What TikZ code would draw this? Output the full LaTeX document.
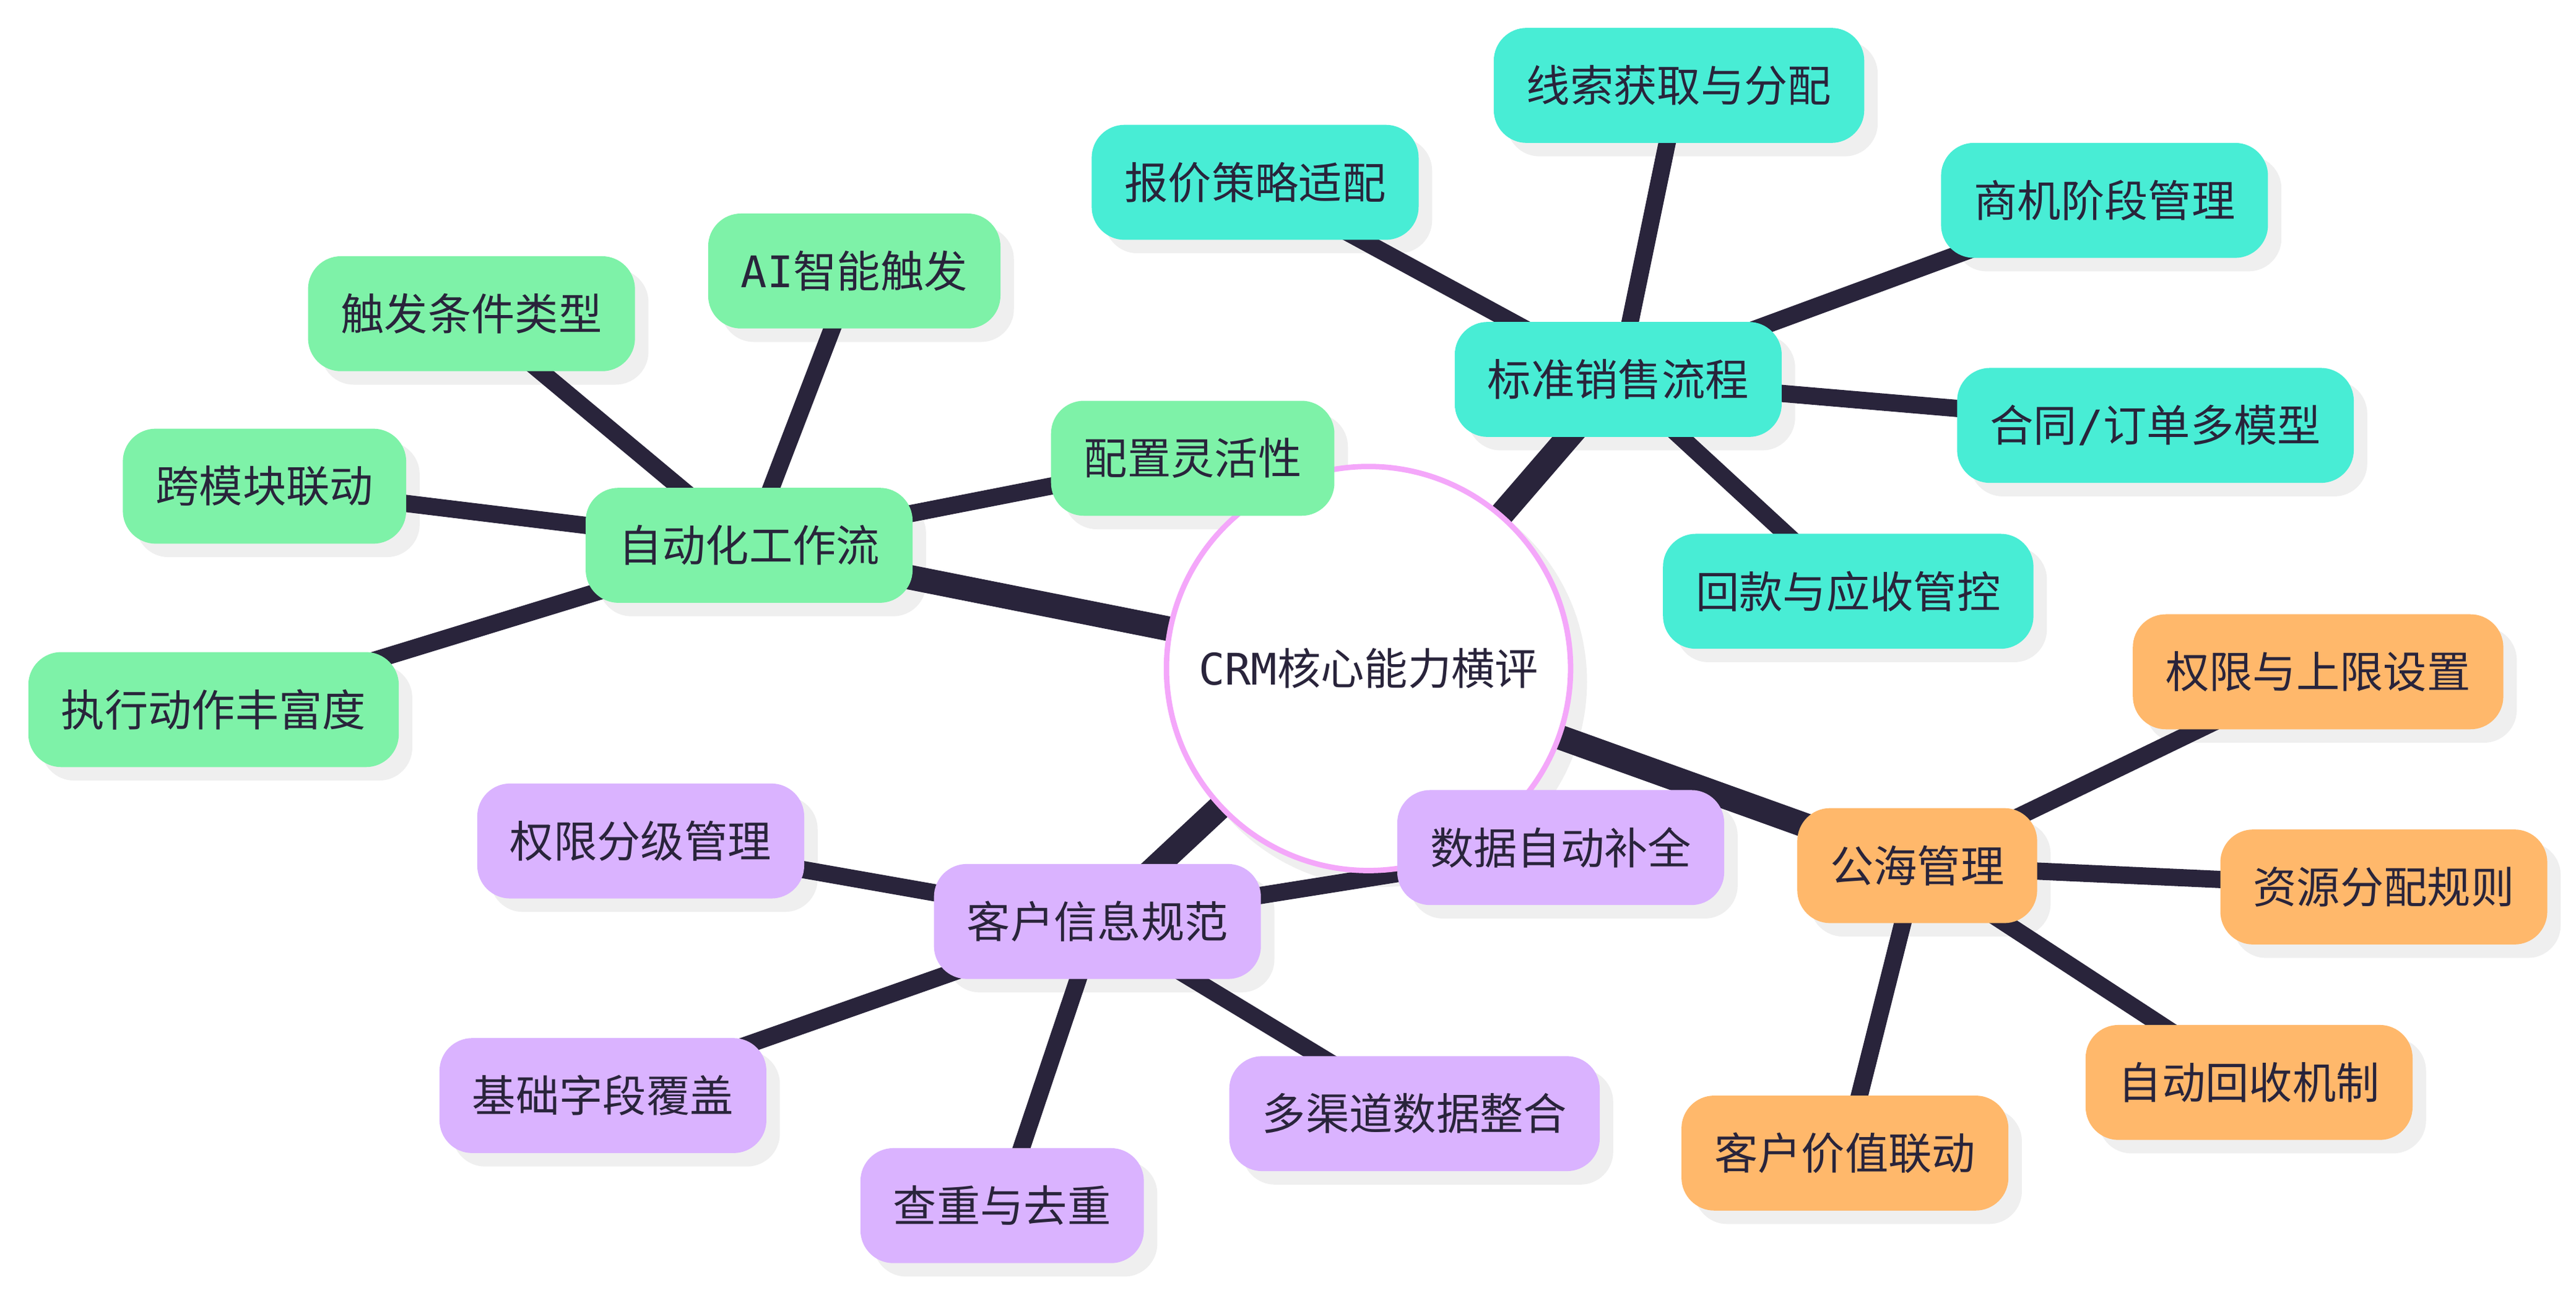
\documentclass[tikz,border=0pt]{standalone}
\usepackage{fontspec}
\setmainfont{Noto Sans CJK SC}
\newfontfamily\latin{DejaVu Sans Mono}
\definecolor{ink}{HTML}{29243B}
\definecolor{hubpink}{HTML}{F4A7FA}
\definecolor{wfgreen}{HTML}{7EF2A8}
\definecolor{salesteal}{HTML}{48EDD5}
\definecolor{poolorange}{HTML}{FFB86B}
\definecolor{infopurple}{HTML}{DAB3FF}
\definecolor{shadowgray}{HTML}{EFEFEF}
\pgfdeclarelayer{shadowlayer}
\pgfdeclarelayer{edgelayer}
\pgfsetlayers{shadowlayer,edgelayer,main}
\tikzset{
    topic/.style={rounded corners=20pt, minimum height=70pt, inner xsep=20pt, inner ysep=0pt, text=ink, font=\fontsize{26.5}{30}\selectfont},
    hub/.style={circle, draw=hubpink, line width=3.3pt, fill=white, minimum size=246pt, inner sep=0pt, text=ink, font=\fontsize{26.5}{30}\selectfont},
    wfbox/.style={topic, fill=wfgreen},
    salesbox/.style={topic, fill=salesteal},
    poolbox/.style={topic, fill=poolorange},
    infobox/.style={topic, fill=infopurple},
    trunk/.style={ink, line width=15pt},
    twig/.style={ink, line width=10.5pt},
    dropbox/.style={fill=shadowgray, rounded corners=20pt}
}
\begin{document}
\begin{tikzpicture}[x=1pt,y=-1pt]
            \useasboundingbox (0,0) rectangle (1568,787);
            \node[hub] (root) at (833,407) {{\latin CRM}核心能力横评};
            \node[wfbox] (wf) at (456,332) {自动化工作流};
            \node[salesbox] (sales) at (985,231) {标准销售流程};
            \node[poolbox] (pool) at (1167,527) {公海管理};
            \node[infobox] (info) at (668,561) {客户信息规范};
            \foreach \n/\x/\y/\t in {wf1/726/279/{配置灵活性}, wf2/520/165/{{\latin AI}智能触发}, wf3/287/191/{触发条件类型}, wf4/161/296/{跨模块联动}, wf5/130/432/{执行动作丰富度}} {
                \node[wfbox] (\n) at (\x,\y) {\t};
            }
            \foreach \n/\x/\y/\t in {sales1/764/111/{报价策略适配}, sales2/1022/52/{线索获取与分配}, sales3/1281/122/{商机阶段管理}, sales4/1312/259/{合同{\latin /}订单多模型}, sales5/1125/360/{回款与应收管控}} {
                \node[salesbox] (\n) at (\x,\y) {\t};
            }
            \foreach \n/\x/\y/\t in {pool1/1411/409/{权限与上限设置}, pool2/1451/540/{资源分配规则}, pool3/1369/659/{自动回收机制}, pool4/1123/702/{客户价值联动}} {
                \node[poolbox] (\n) at (\x,\y) {\t};
            }
            \foreach \n/\x/\y/\t in {info1/950/516/{数据自动补全}, info2/390/512/{权限分级管理}, info3/367/667/{基础字段覆盖}, info4/610/734/{查重与去重}, info5/861/678/{多渠道数据整合}} {
                \node[infobox] (\n) at (\x,\y) {\t};
            }
            \begin{pgfonlayer}{edgelayer}
                \foreach \b in {wf,sales,pool,info} {
                    \draw[trunk] (root.center) -- (\b.center);
                }
                \foreach \a/\b in {wf/wf1,wf/wf2,wf/wf3,wf/wf4,wf/wf5,sales/sales1,sales/sales2,sales/sales3,sales/sales4,sales/sales5,pool/pool1,pool/pool2,pool/pool3,pool/pool4,info/info1,info/info2,info/info3,info/info4,info/info5} {
                    \draw[twig] (\a.center) -- (\b.center);
                }
            \end{pgfonlayer}
            \begin{pgfonlayer}{shadowlayer}
                \fill[shadowgray] ([xshift=8pt,yshift=-8pt]root.center) circle (125pt);
                \foreach \n in {wf,sales,pool,info,wf1,wf2,wf3,wf4,wf5,sales1,sales2,sales3,sales4,sales5,pool1,pool2,pool3,pool4,info1,info2,info3,info4,info5} {
                    \fill[dropbox] ([xshift=8pt,yshift=-8pt]\n.south west) rectangle ([xshift=8pt,yshift=-8pt]\n.north east);
                }
            \end{pgfonlayer}
        \end{tikzpicture}
\end{document}
